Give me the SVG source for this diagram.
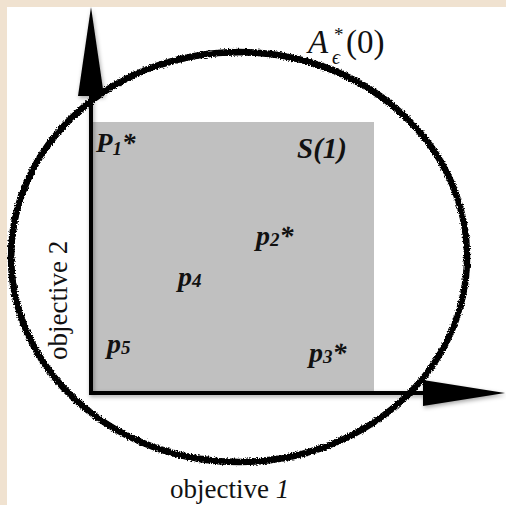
<svg xmlns="http://www.w3.org/2000/svg" width="506" height="505" viewBox="0 0 506 505">
<defs>
<style>
.lbl{font-family:"Liberation Serif","Times New Roman",serif;font-weight:bold;font-style:italic;fill:#111}
.ax{font-family:"Liberation Serif","Times New Roman",serif;fill:#111}
.sub{font-size:19px}
.ring{fill:none;stroke:#000}
</style>
<filter id="rough" x="-10%" y="-10%" width="120%" height="120%">
<feTurbulence type="fractalNoise" baseFrequency="0.7" numOctaves="2" seed="3" result="n"/>
<feDisplacementMap in="SourceGraphic" in2="n" scale="4" xChannelSelector="R" yChannelSelector="G"/>
</filter>
<filter id="shadow" x="-20%" y="-20%" width="140%" height="140%">
<feDropShadow dx="1" dy="2" stdDeviation="2" flood-color="#000" flood-opacity="0.35"/>
</filter>
</defs>
<rect x="0" y="0" width="506" height="505" fill="#f0e2d0"/>
<rect x="7" y="7" width="499" height="498" fill="#ffffff"/>

<g id="region-S1">
<rect x="92" y="122" width="282" height="270" fill="#c0c0c0"/>
<text class="lbl" x="297" y="158" font-size="29">S(1)</text>
</g>

<g id="connectors" filter="url(#shadow)">
<line x1="91" y1="393" x2="91" y2="92" stroke="#000" stroke-width="4"/>
<polygon points="91,7 78,96 104,96" fill="#000"/>
<line x1="89" y1="393" x2="426" y2="393" stroke="#000" stroke-width="4"/>
<polygon points="505,393 423,380 423,406" fill="#000"/>
</g>

<g id="ellipse-A">
<g filter="url(#rough)">
<ellipse class="ring" cx="239" cy="257" rx="228" ry="205" stroke-width="6.5"/>
<ellipse class="ring" cx="239.5" cy="257.5" rx="227" ry="204" stroke-width="3.5" transform="rotate(1 239 257)"/>
</g>
<text class="ax" font-size="33" x="308" y="53"><tspan font-style="italic">A</tspan><tspan x="346">(0)</tspan></text>
<text class="ax" font-size="19" x="334" y="41">*</text>
<text class="ax" font-size="20" font-style="italic" x="332" y="64">ϵ</text>
</g>

<g id="p1"><text class="lbl" x="96" y="152" font-size="27">P<tspan class="sub" dy="3">1</tspan><tspan dy="-3">*</tspan></text></g>
<g id="p2"><text class="lbl" x="256" y="245" font-size="28">p<tspan class="sub" dy="1">2</tspan><tspan dy="-1">*</tspan></text></g>
<g id="p4"><text class="lbl" x="178" y="286" font-size="28">p<tspan class="sub" dy="1">4</tspan></text></g>
<g id="p5"><text class="lbl" x="107" y="353" font-size="28">p<tspan class="sub" dy="1">5</tspan></text></g>
<g id="p3"><text class="lbl" x="309" y="362" font-size="28">p<tspan class="sub" dy="1">3</tspan><tspan dy="-1">*</tspan></text></g>

<g id="axis-labels">
<text class="ax" x="170" y="498" font-size="27">objective <tspan font-style="italic">1</tspan></text>
<text class="ax" font-size="27" transform="translate(67,360) rotate(-90)">objective 2</text>
</g>
</svg>
